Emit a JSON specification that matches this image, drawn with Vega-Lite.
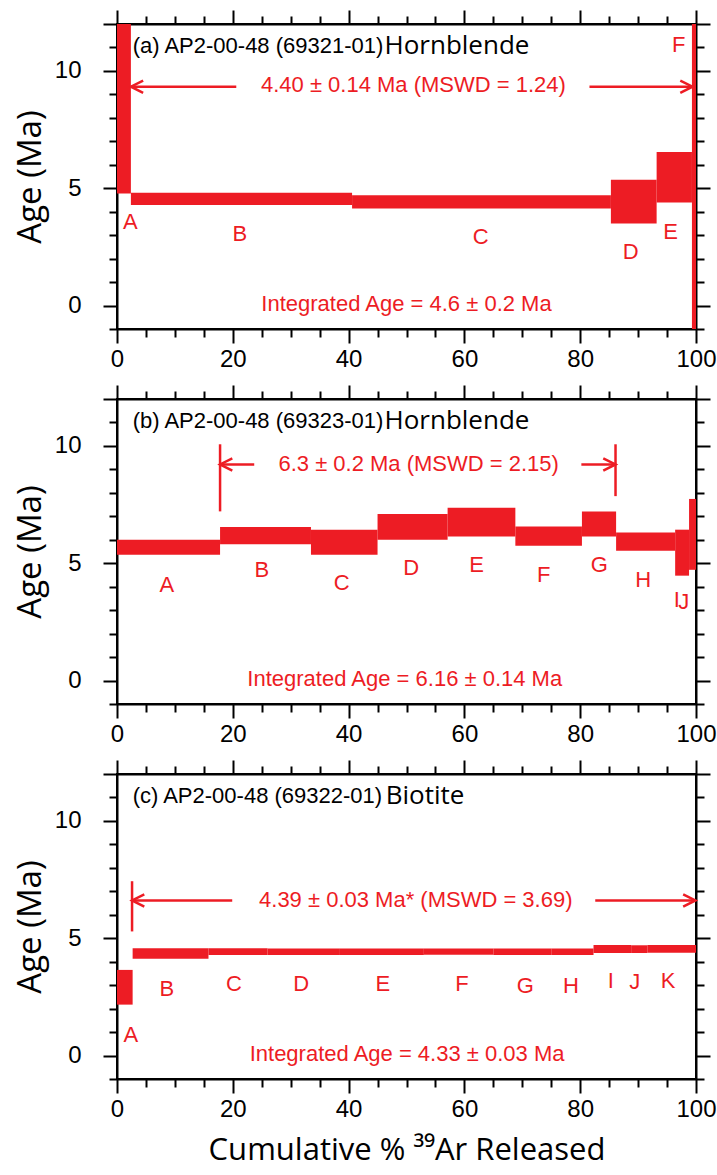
{
  "$schema": "https://vega.github.io/schema/vega-lite/v6.json",
  "padding": {"top": 8, "left": 13, "right": 4, "bottom": 5},
  "background": "white",
  "spacing": 70,
  "bounds": "flush",
  "config": {
    "view": {"stroke": "black", "strokeWidth": 2},
    "axis": {
      "grid": false,
      "domainColor": "black",
      "domainWidth": 2,
      "tickColor": "black",
      "tickWidth": 2,
      "labelFont": "Liberation Sans",
      "labelFontSize": 24,
      "labelColor": "black",
      "labelFlush": false,
      "labelOverlap": false,
      "titleFont": "Open Sans",
      "titleFontWeight": "normal",
      "titleColor": "black"
    }
  },
  "datasets": {
    "steps": [
      {"panel": "a", "step": "A", "x1": 0, "x2": 2.4, "lo": 4.78, "hi": 13},
      {"panel": "a", "step": "B", "x1": 2.4, "x2": 40.6, "lo": 4.29, "hi": 4.81},
      {"panel": "a", "step": "C", "x1": 40.6, "x2": 85.3, "lo": 4.14, "hi": 4.7},
      {"panel": "a", "step": "D", "x1": 85.3, "x2": 93.2, "lo": 3.5, "hi": 5.36},
      {"panel": "a", "step": "E", "x1": 93.2, "x2": 99.3, "lo": 4.39, "hi": 6.54},
      {"panel": "a", "step": "F", "x1": 99.3, "x2": 100, "lo": -2, "hi": 13},
      {"panel": "b", "step": "A", "x1": 0, "x2": 17.8, "lo": 5.36, "hi": 6.0},
      {"panel": "b", "step": "B", "x1": 17.8, "x2": 33.5, "lo": 5.81, "hi": 6.54},
      {"panel": "b", "step": "C", "x1": 33.5, "x2": 45.0, "lo": 5.36, "hi": 6.43},
      {"panel": "b", "step": "D", "x1": 45.0, "x2": 57.1, "lo": 6.0, "hi": 7.1},
      {"panel": "b", "step": "E", "x1": 57.1, "x2": 68.8, "lo": 6.14, "hi": 7.36},
      {"panel": "b", "step": "F", "x1": 68.8, "x2": 80.3, "lo": 5.74, "hi": 6.57},
      {"panel": "b", "step": "G", "x1": 80.3, "x2": 86.2, "lo": 6.14, "hi": 7.21},
      {"panel": "b", "step": "H", "x1": 86.2, "x2": 96.4, "lo": 5.53, "hi": 6.31},
      {"panel": "b", "step": "I", "x1": 96.4, "x2": 98.8, "lo": 4.47, "hi": 6.43},
      {"panel": "b", "step": "J", "x1": 98.8, "x2": 100, "lo": 4.72, "hi": 7.74},
      {"panel": "c", "step": "A", "x1": 0, "x2": 2.7, "lo": 2.17, "hi": 3.65},
      {"panel": "c", "step": "B", "x1": 2.7, "x2": 15.8, "lo": 4.13, "hi": 4.57},
      {"panel": "c", "step": "C", "x1": 15.8, "x2": 26.0, "lo": 4.28, "hi": 4.57},
      {"panel": "c", "step": "D", "x1": 26.0, "x2": 38.5, "lo": 4.29, "hi": 4.56},
      {"panel": "c", "step": "E", "x1": 38.5, "x2": 53.0, "lo": 4.29, "hi": 4.56},
      {"panel": "c", "step": "F", "x1": 53.0, "x2": 65.0, "lo": 4.3, "hi": 4.56},
      {"panel": "c", "step": "G", "x1": 65.0, "x2": 75.0, "lo": 4.29, "hi": 4.56},
      {"panel": "c", "step": "H", "x1": 75.0, "x2": 82.3, "lo": 4.29, "hi": 4.56},
      {"panel": "c", "step": "I", "x1": 82.3, "x2": 88.8, "lo": 4.37, "hi": 4.71},
      {"panel": "c", "step": "J", "x1": 88.8, "x2": 91.6, "lo": 4.37, "hi": 4.7},
      {"panel": "c", "step": "K", "x1": 91.6, "x2": 100, "lo": 4.38, "hi": 4.71}
    ],
    "letters": [
      {"panel": "a", "t": "A", "pct": 2.3, "age": 3.57},
      {"panel": "a", "t": "B", "pct": 21.2, "age": 3.07},
      {"panel": "a", "t": "C", "pct": 62.8, "age": 2.93},
      {"panel": "a", "t": "D", "pct": 88.7, "age": 2.29},
      {"panel": "a", "t": "E", "pct": 95.6, "age": 3.14},
      {"panel": "a", "t": "F", "pct": 97.0, "age": 11.1},
      {"panel": "b", "t": "A", "pct": 8.6, "age": 4.07},
      {"panel": "b", "t": "B", "pct": 25.0, "age": 4.71},
      {"panel": "b", "t": "C", "pct": 38.8, "age": 4.14},
      {"panel": "b", "t": "D", "pct": 50.8, "age": 4.79},
      {"panel": "b", "t": "E", "pct": 62.1, "age": 4.93},
      {"panel": "b", "t": "F", "pct": 73.7, "age": 4.5},
      {"panel": "b", "t": "G", "pct": 83.3, "age": 4.93},
      {"panel": "b", "t": "H", "pct": 90.9, "age": 4.29},
      {"panel": "b", "t": "I", "pct": 96.7, "age": 3.45},
      {"panel": "b", "t": "J", "pct": 97.9, "age": 3.36},
      {"panel": "c", "t": "A", "pct": 2.4, "age": 0.87},
      {"panel": "c", "t": "B", "pct": 8.6, "age": 2.83},
      {"panel": "c", "t": "C", "pct": 20.2, "age": 3.04},
      {"panel": "c", "t": "D", "pct": 31.8, "age": 3.04},
      {"panel": "c", "t": "E", "pct": 45.9, "age": 3.04},
      {"panel": "c", "t": "F", "pct": 59.6, "age": 3.04},
      {"panel": "c", "t": "G", "pct": 70.5, "age": 2.97},
      {"panel": "c", "t": "H", "pct": 78.4, "age": 2.97},
      {"panel": "c", "t": "I", "pct": 85.3, "age": 3.19},
      {"panel": "c", "t": "J", "pct": 89.4, "age": 3.12},
      {"panel": "c", "t": "K", "pct": 95.2, "age": 3.19}
    ],
    "notes": [
      {"panel": "a", "t": "4.40 ± 0.14 Ma (MSWD = 1.24)", "pct": 51.2, "age": 9.38},
      {"panel": "a", "t": "Integrated Age = 4.6 ± 0.2 Ma", "pct": 50.0, "age": 0.05},
      {"panel": "b", "t": "6.3 ± 0.2 Ma (MSWD = 2.15)", "pct": 52.1, "age": 9.25},
      {"panel": "b", "t": "Integrated Age = 6.16 ± 0.14 Ma", "pct": 49.7, "age": 0.05},
      {"panel": "c", "t": "4.39 ± 0.03 Ma* (MSWD = 3.69)", "pct": 51.6, "age": 6.65},
      {"panel": "c", "t": "Integrated Age = 4.33 ± 0.03 Ma", "pct": 50.1, "age": 0.05}
    ],
    "segments": [
      {"panel": "a", "x1": 2.4, "x2": 20.6, "y": 9.33},
      {"panel": "a", "x1": 81.6, "x2": 99.4, "y": 9.33},
      {"panel": "b", "x1": 17.8, "x2": 23.7, "y": 9.21},
      {"panel": "b", "x1": 80.2, "x2": 86.1, "y": 9.21},
      {"panel": "c", "x1": 2.6, "x2": 19.9, "y": 6.61},
      {"panel": "c", "x1": 82.6, "x2": 99.9, "y": 6.61}
    ],
    "brackets": [
      {"panel": "b", "x": 17.8, "y1": 7.21, "y2": 10.07},
      {"panel": "b", "x": 86.1, "y1": 7.86, "y2": 10.07},
      {"panel": "c", "x": 2.6, "y1": 5.29, "y2": 7.43}
    ],
    "heads": [
      {"panel": "a", "dir": "L", "x": 2.4, "y": 9.33},
      {"panel": "a", "dir": "R", "x": 99.4, "y": 9.33},
      {"panel": "b", "dir": "L", "x": 17.8, "y": 9.21},
      {"panel": "b", "dir": "R", "x": 86.1, "y": 9.21},
      {"panel": "c", "dir": "L", "x": 2.6, "y": 6.61},
      {"panel": "c", "dir": "R", "x": 99.9, "y": 6.61}
    ],
    "titles": [
      {"panel": "a", "t1": "(a) AP2-00-48 (69321-01)", "t2": "Hornblende", "p1": 2.7, "p2": 46.2, "age": 11.05},
      {"panel": "b", "t1": "(b) AP2-00-48 (69323-01)", "t2": "Hornblende", "p1": 2.7, "p2": 46.2, "age": 11.05},
      {"panel": "c", "t1": "(c) AP2-00-48 (69322-01)", "t2": "Biotite", "p1": 2.7, "p2": 46.4, "age": 11.05}
    ]
  },
  "vconcat": [
    {
      "width": 579, "height": 305,
      "resolve": {"axis": {"x": "independent", "y": "independent"}},
      "layer": [
        {
          "data": {"name": "steps"},
          "transform": [{"filter": "datum.panel === 'a'"}],
          "mark": {"type": "rect", "color": "#ED1C24", "clip": true},
          "encoding": {
            "x": {"field": "x1", "type": "quantitative", "scale": {"domain": [0, 100], "nice": false, "zero": false},
              "axis": {"orient": "bottom", "values": [0,5,10,15,20,25,30,35,40,45,50,55,60,65,70,75,80,85,90,95,100], "labelExpr": "datum.value % 20 === 0 ? datum.label : ''", "tickSize": {"condition": {"test": "datum.value % 20 === 0", "value": 14}, "value": 8}, "labelPadding": 4, "title": null}},
            "x2": {"field": "x2"},
            "y": {"field": "lo", "type": "quantitative", "scale": {"domain": [-1, 12], "nice": false, "zero": false},
              "axis": {"orient": "left", "values": [-1,0,1,2,3,4,5,6,7,8,9,10,11,12], "labelExpr": "datum.value % 5 === 0 ? datum.label : ''", "tickSize": {"condition": {"test": "datum.value % 5 === 0 || datum.value === 12", "value": 14}, "value": 8}, "labelPadding": 22, "title": "Age (Ma)", "titleFontSize": 33, "titlePadding": 7}},
            "y2": {"field": "hi"}
          }
        },
        {
          "data": {"name": "segments"},
          "transform": [{"filter": "datum.panel === 'a'"}],
          "mark": {"type": "rule", "color": "#ED1C24", "strokeWidth": 2.5},
          "encoding": {
            "x": {"field": "x1", "type": "quantitative", "scale": {"domain": [0, 100], "nice": false, "zero": false},
              "axis": {"orient": "top", "values": [0,5,10,15,20,25,30,35,40,45,50,55,60,65,70,75,80,85,90,95,100], "labels": false, "tickSize": {"condition": {"test": "datum.value % 20 === 0", "value": 14}, "value": 8}, "title": null}},
            "x2": {"field": "x2"},
            "y": {"field": "y", "type": "quantitative", "scale": {"domain": [-1, 12], "nice": false, "zero": false},
              "axis": {"orient": "right", "values": [-1,0,1,2,3,4,5,6,7,8,9,10,11,12], "labels": false, "tickSize": {"condition": {"test": "datum.value % 5 === 0 || datum.value === 12", "value": 14}, "value": 8}, "title": null}}
          }
        },
        {
          "data": {"name": "heads"},
          "transform": [{"filter": "datum.panel === 'a'"}],
          "mark": {"type": "point", "filled": false, "stroke": "#ED1C24", "strokeWidth": 2.5, "size": 150, "opacity": 1},
          "encoding": {
            "x": {"field": "x", "type": "quantitative", "scale": {"domain": [0, 100]}, "axis": null},
            "y": {"field": "y", "type": "quantitative", "scale": {"domain": [-1, 12]}, "axis": null},
            "shape": {"field": "dir", "type": "nominal", "scale": {"domain": ["L", "R"], "range": ["M2,-1L0,0L2,1", "M-2,-1L0,0L-2,1"]}, "legend": null}
          }
        },
        {
          "data": {"name": "letters"},
          "transform": [{"filter": "datum.panel === 'a'"}],
          "mark": {"type": "text", "color": "#ED1C24", "font": "Liberation Sans", "fontSize": 22, "baseline": "middle", "align": "center"},
          "encoding": {
            "x": {"field": "pct", "type": "quantitative", "scale": {"domain": [0, 100]}, "axis": null},
            "y": {"field": "age", "type": "quantitative", "scale": {"domain": [-1, 12]}, "axis": null},
            "text": {"field": "t"}
          }
        },
        {
          "data": {"name": "notes"},
          "transform": [{"filter": "datum.panel === 'a'"}],
          "mark": {"type": "text", "color": "#ED1C24", "font": "Liberation Sans", "fontSize": 22, "baseline": "middle", "align": "center"},
          "encoding": {
            "x": {"field": "pct", "type": "quantitative", "scale": {"domain": [0, 100]}, "axis": null},
            "y": {"field": "age", "type": "quantitative", "scale": {"domain": [-1, 12]}, "axis": null},
            "text": {"field": "t"}
          }
        },
        {
          "data": {"name": "titles"},
          "transform": [{"filter": "datum.panel === 'a'"}],
          "mark": {"type": "text", "color": "black", "font": "Liberation Sans", "fontSize": 22, "baseline": "middle", "align": "left"},
          "encoding": {
            "x": {"field": "p1", "type": "quantitative", "scale": {"domain": [0, 100]}, "axis": null},
            "y": {"field": "age", "type": "quantitative", "scale": {"domain": [-1, 12]}, "axis": null},
            "text": {"field": "t1"}
          }
        },
        {
          "data": {"name": "titles"},
          "transform": [{"filter": "datum.panel === 'a'"}],
          "mark": {"type": "text", "color": "black", "font": "Open Sans", "fontSize": 26, "baseline": "middle", "align": "left"},
          "encoding": {
            "x": {"field": "p2", "type": "quantitative", "scale": {"domain": [0, 100]}, "axis": null},
            "y": {"field": "age", "type": "quantitative", "scale": {"domain": [-1, 12]}, "axis": null},
            "text": {"field": "t2"}
          }
        }
      ]
    },
    {
      "width": 579, "height": 305,
      "resolve": {"axis": {"x": "independent", "y": "independent"}},
      "layer": [
        {
          "data": {"name": "steps"},
          "transform": [{"filter": "datum.panel === 'b'"}],
          "mark": {"type": "rect", "color": "#ED1C24", "clip": true},
          "encoding": {
            "x": {"field": "x1", "type": "quantitative", "scale": {"domain": [0, 100], "nice": false, "zero": false},
              "axis": {"orient": "bottom", "values": [0,5,10,15,20,25,30,35,40,45,50,55,60,65,70,75,80,85,90,95,100], "labelExpr": "datum.value % 20 === 0 ? datum.label : ''", "tickSize": {"condition": {"test": "datum.value % 20 === 0", "value": 14}, "value": 8}, "labelPadding": 4, "title": null}},
            "x2": {"field": "x2"},
            "y": {"field": "lo", "type": "quantitative", "scale": {"domain": [-1, 12], "nice": false, "zero": false},
              "axis": {"orient": "left", "values": [-1,0,1,2,3,4,5,6,7,8,9,10,11,12], "labelExpr": "datum.value % 5 === 0 ? datum.label : ''", "tickSize": {"condition": {"test": "datum.value % 5 === 0 || datum.value === 12", "value": 14}, "value": 8}, "labelPadding": 22, "title": "Age (Ma)", "titleFontSize": 33, "titlePadding": 7}},
            "y2": {"field": "hi"}
          }
        },
        {
          "data": {"name": "segments"},
          "transform": [{"filter": "datum.panel === 'b'"}],
          "mark": {"type": "rule", "color": "#ED1C24", "strokeWidth": 2.5},
          "encoding": {
            "x": {"field": "x1", "type": "quantitative", "scale": {"domain": [0, 100], "nice": false, "zero": false},
              "axis": {"orient": "top", "values": [0,5,10,15,20,25,30,35,40,45,50,55,60,65,70,75,80,85,90,95,100], "labels": false, "tickSize": {"condition": {"test": "datum.value % 20 === 0", "value": 14}, "value": 8}, "title": null}},
            "x2": {"field": "x2"},
            "y": {"field": "y", "type": "quantitative", "scale": {"domain": [-1, 12], "nice": false, "zero": false},
              "axis": {"orient": "right", "values": [-1,0,1,2,3,4,5,6,7,8,9,10,11,12], "labels": false, "tickSize": {"condition": {"test": "datum.value % 5 === 0 || datum.value === 12", "value": 14}, "value": 8}, "title": null}}
          }
        },
        {
          "data": {"name": "brackets"},
          "transform": [{"filter": "datum.panel === 'b'"}],
          "mark": {"type": "rule", "color": "#ED1C24", "strokeWidth": 2.5},
          "encoding": {
            "x": {"field": "x", "type": "quantitative", "scale": {"domain": [0, 100]}, "axis": null},
            "y": {"field": "y1", "type": "quantitative", "scale": {"domain": [-1, 12]}, "axis": null},
            "y2": {"field": "y2"}
          }
        },
        {
          "data": {"name": "heads"},
          "transform": [{"filter": "datum.panel === 'b'"}],
          "mark": {"type": "point", "filled": false, "stroke": "#ED1C24", "strokeWidth": 2.5, "size": 150, "opacity": 1},
          "encoding": {
            "x": {"field": "x", "type": "quantitative", "scale": {"domain": [0, 100]}, "axis": null},
            "y": {"field": "y", "type": "quantitative", "scale": {"domain": [-1, 12]}, "axis": null},
            "shape": {"field": "dir", "type": "nominal", "scale": {"domain": ["L", "R"], "range": ["M2,-1L0,0L2,1", "M-2,-1L0,0L-2,1"]}, "legend": null}
          }
        },
        {
          "data": {"name": "letters"},
          "transform": [{"filter": "datum.panel === 'b'"}],
          "mark": {"type": "text", "color": "#ED1C24", "font": "Liberation Sans", "fontSize": 22, "baseline": "middle", "align": "center"},
          "encoding": {
            "x": {"field": "pct", "type": "quantitative", "scale": {"domain": [0, 100]}, "axis": null},
            "y": {"field": "age", "type": "quantitative", "scale": {"domain": [-1, 12]}, "axis": null},
            "text": {"field": "t"}
          }
        },
        {
          "data": {"name": "notes"},
          "transform": [{"filter": "datum.panel === 'b'"}],
          "mark": {"type": "text", "color": "#ED1C24", "font": "Liberation Sans", "fontSize": 22, "baseline": "middle", "align": "center"},
          "encoding": {
            "x": {"field": "pct", "type": "quantitative", "scale": {"domain": [0, 100]}, "axis": null},
            "y": {"field": "age", "type": "quantitative", "scale": {"domain": [-1, 12]}, "axis": null},
            "text": {"field": "t"}
          }
        },
        {
          "data": {"name": "titles"},
          "transform": [{"filter": "datum.panel === 'b'"}],
          "mark": {"type": "text", "color": "black", "font": "Liberation Sans", "fontSize": 22, "baseline": "middle", "align": "left"},
          "encoding": {
            "x": {"field": "p1", "type": "quantitative", "scale": {"domain": [0, 100]}, "axis": null},
            "y": {"field": "age", "type": "quantitative", "scale": {"domain": [-1, 12]}, "axis": null},
            "text": {"field": "t1"}
          }
        },
        {
          "data": {"name": "titles"},
          "transform": [{"filter": "datum.panel === 'b'"}],
          "mark": {"type": "text", "color": "black", "font": "Open Sans", "fontSize": 26, "baseline": "middle", "align": "left"},
          "encoding": {
            "x": {"field": "p2", "type": "quantitative", "scale": {"domain": [0, 100]}, "axis": null},
            "y": {"field": "age", "type": "quantitative", "scale": {"domain": [-1, 12]}, "axis": null},
            "text": {"field": "t2"}
          }
        }
      ]
    },
    {
      "width": 579, "height": 305,
      "resolve": {"axis": {"x": "independent", "y": "independent"}},
      "layer": [
        {
          "data": {"name": "steps"},
          "transform": [{"filter": "datum.panel === 'c'"}],
          "mark": {"type": "rect", "color": "#ED1C24", "clip": true},
          "encoding": {
            "x": {"field": "x1", "type": "quantitative", "scale": {"domain": [0, 100], "nice": false, "zero": false},
              "axis": {"orient": "bottom", "values": [0,5,10,15,20,25,30,35,40,45,50,55,60,65,70,75,80,85,90,95,100], "labelExpr": "datum.value % 20 === 0 ? datum.label : ''", "tickSize": {"condition": {"test": "datum.value % 20 === 0", "value": 14}, "value": 8}, "labelPadding": 4, "title": "Cumulative % ³⁹Ar Released", "titleFontSize": 31, "titlePadding": 14}},
            "x2": {"field": "x2"},
            "y": {"field": "lo", "type": "quantitative", "scale": {"domain": [-1, 12], "nice": false, "zero": false},
              "axis": {"orient": "left", "values": [-1,0,1,2,3,4,5,6,7,8,9,10,11,12], "labelExpr": "datum.value % 5 === 0 ? datum.label : ''", "tickSize": {"condition": {"test": "datum.value % 5 === 0 || datum.value === 12", "value": 14}, "value": 8}, "labelPadding": 22, "title": "Age (Ma)", "titleFontSize": 33, "titlePadding": 7}},
            "y2": {"field": "hi"}
          }
        },
        {
          "data": {"name": "segments"},
          "transform": [{"filter": "datum.panel === 'c'"}],
          "mark": {"type": "rule", "color": "#ED1C24", "strokeWidth": 2.5},
          "encoding": {
            "x": {"field": "x1", "type": "quantitative", "scale": {"domain": [0, 100], "nice": false, "zero": false},
              "axis": {"orient": "top", "values": [0,5,10,15,20,25,30,35,40,45,50,55,60,65,70,75,80,85,90,95,100], "labels": false, "tickSize": {"condition": {"test": "datum.value % 20 === 0", "value": 14}, "value": 8}, "title": null}},
            "x2": {"field": "x2"},
            "y": {"field": "y", "type": "quantitative", "scale": {"domain": [-1, 12], "nice": false, "zero": false},
              "axis": {"orient": "right", "values": [-1,0,1,2,3,4,5,6,7,8,9,10,11,12], "labels": false, "tickSize": {"condition": {"test": "datum.value % 5 === 0 || datum.value === 12", "value": 14}, "value": 8}, "title": null}}
          }
        },
        {
          "data": {"name": "brackets"},
          "transform": [{"filter": "datum.panel === 'c'"}],
          "mark": {"type": "rule", "color": "#ED1C24", "strokeWidth": 2.5},
          "encoding": {
            "x": {"field": "x", "type": "quantitative", "scale": {"domain": [0, 100]}, "axis": null},
            "y": {"field": "y1", "type": "quantitative", "scale": {"domain": [-1, 12]}, "axis": null},
            "y2": {"field": "y2"}
          }
        },
        {
          "data": {"name": "heads"},
          "transform": [{"filter": "datum.panel === 'c'"}],
          "mark": {"type": "point", "filled": false, "stroke": "#ED1C24", "strokeWidth": 2.5, "size": 150, "opacity": 1},
          "encoding": {
            "x": {"field": "x", "type": "quantitative", "scale": {"domain": [0, 100]}, "axis": null},
            "y": {"field": "y", "type": "quantitative", "scale": {"domain": [-1, 12]}, "axis": null},
            "shape": {"field": "dir", "type": "nominal", "scale": {"domain": ["L", "R"], "range": ["M2,-1L0,0L2,1", "M-2,-1L0,0L-2,1"]}, "legend": null}
          }
        },
        {
          "data": {"name": "letters"},
          "transform": [{"filter": "datum.panel === 'c'"}],
          "mark": {"type": "text", "color": "#ED1C24", "font": "Liberation Sans", "fontSize": 22, "baseline": "middle", "align": "center"},
          "encoding": {
            "x": {"field": "pct", "type": "quantitative", "scale": {"domain": [0, 100]}, "axis": null},
            "y": {"field": "age", "type": "quantitative", "scale": {"domain": [-1, 12]}, "axis": null},
            "text": {"field": "t"}
          }
        },
        {
          "data": {"name": "notes"},
          "transform": [{"filter": "datum.panel === 'c'"}],
          "mark": {"type": "text", "color": "#ED1C24", "font": "Liberation Sans", "fontSize": 22, "baseline": "middle", "align": "center"},
          "encoding": {
            "x": {"field": "pct", "type": "quantitative", "scale": {"domain": [0, 100]}, "axis": null},
            "y": {"field": "age", "type": "quantitative", "scale": {"domain": [-1, 12]}, "axis": null},
            "text": {"field": "t"}
          }
        },
        {
          "data": {"name": "titles"},
          "transform": [{"filter": "datum.panel === 'c'"}],
          "mark": {"type": "text", "color": "black", "font": "Liberation Sans", "fontSize": 22, "baseline": "middle", "align": "left"},
          "encoding": {
            "x": {"field": "p1", "type": "quantitative", "scale": {"domain": [0, 100]}, "axis": null},
            "y": {"field": "age", "type": "quantitative", "scale": {"domain": [-1, 12]}, "axis": null},
            "text": {"field": "t1"}
          }
        },
        {
          "data": {"name": "titles"},
          "transform": [{"filter": "datum.panel === 'c'"}],
          "mark": {"type": "text", "color": "black", "font": "Open Sans", "fontSize": 26, "baseline": "middle", "align": "left"},
          "encoding": {
            "x": {"field": "p2", "type": "quantitative", "scale": {"domain": [0, 100]}, "axis": null},
            "y": {"field": "age", "type": "quantitative", "scale": {"domain": [-1, 12]}, "axis": null},
            "text": {"field": "t2"}
          }
        }
      ]
    }
  ]
}
